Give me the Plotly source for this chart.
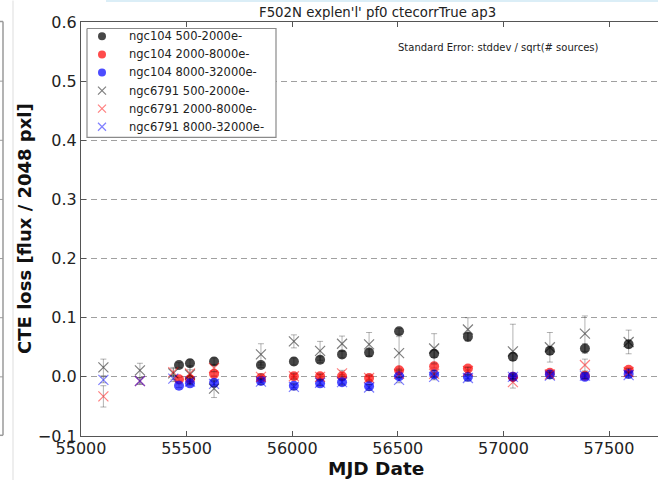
import plotly.graph_objects as go

# ---------------- data ----------------
mjd_104 = [55464, 55516, 55630, 55852, 56008, 56132, 56236, 56364, 56506, 56672, 56832, 57045, 57220, 57386, 57593]
ngc104_500 = [0.020, 0.023, 0.026, 0.020, 0.026, 0.029, 0.038, 0.041, 0.077, 0.039, 0.068, 0.034, 0.044, 0.048, 0.055]
ngc104_500_err = [0.004, 0.006, 0.006, 0.004, 0.006, 0.005, 0.006, 0.006, 0.005, 0.006, 0.006, 0.006, 0.006, 0.008, 0.006]
ngc104_2000 = [-0.004, -0.004, 0.005, -0.002, 0.001, 0.001, 0.001, -0.002, 0.011, 0.018, 0.014, 0.000, 0.007, 0.002, 0.012]
ngc104_2000_err = [0.003, 0.003, 0.003, 0.003, 0.003, 0.003, 0.003, 0.003, 0.003, 0.003, 0.003, 0.003, 0.003, 0.003, 0.003]
ngc104_8000 = [-0.015, -0.011, -0.010, -0.007, -0.015, -0.011, -0.009, -0.016, 0.001, 0.004, 0.000, 0.000, 0.004, 0.000, 0.005]
ngc104_8000_err = [0.003, 0.003, 0.003, 0.003, 0.003, 0.003, 0.003, 0.003, 0.003, 0.003, 0.003, 0.003, 0.003, 0.003, 0.003]

mjd_6791 = [55106, 55279, 55437, 55516, 55630, 55852, 56008, 56132, 56236, 56364, 56506, 56672, 56832, 57045, 57220, 57386, 57593]
ngc6791_500 = [0.016, 0.011, 0.006, 0.004, -0.020, 0.038, 0.060, 0.044, 0.056, 0.055, 0.040, 0.048, 0.080, 0.043, 0.050, 0.073, 0.059]
ngc6791_500_err = [0.014, 0.012, 0.010, 0.015, 0.015, 0.018, 0.011, 0.016, 0.013, 0.020, 0.028, 0.025, 0.020, 0.046, 0.025, 0.030, 0.020]
ngc6791_2000 = [-0.033, -0.007, 0.008, 0.006, 0.015, 0.000, 0.001, 0.000, 0.006, -0.002, 0.005, 0.005, 0.010, -0.009, 0.004, 0.020, 0.008]
ngc6791_2000_err = [0.018, 0.006, 0.006, 0.006, 0.006, 0.005, 0.005, 0.005, 0.005, 0.005, 0.006, 0.006, 0.006, 0.010, 0.006, 0.010, 0.006]
ngc6791_8000 = [-0.005, -0.007, -0.003, -0.008, -0.012, -0.008, -0.017, -0.010, -0.009, -0.018, -0.005, 0.000, -0.002, 0.000, 0.002, 0.002, 0.003]
ngc6791_8000_err = [0.005, 0.005, 0.005, 0.005, 0.005, 0.005, 0.005, 0.005, 0.005, 0.005, 0.005, 0.005, 0.005, 0.005, 0.005, 0.005, 0.005]

series_names = ["ngc104 500-2000e-", "ngc104 2000-8000e-", "ngc104 8000-32000e-",
                "ngc6791 500-2000e-", "ngc6791 2000-8000e-", "ngc6791 8000-32000e-"]
y_ticks = [-0.1, 0.0, 0.1, 0.2, 0.3, 0.4, 0.5, 0.6]
y_tick_labels = ["\u22120.1", "0.0", "0.1", "0.2", "0.3", "0.4", "0.5", "0.6"]
x_ticks = [55000, 55500, 56000, 56500, 57000, 57500]

title_text = "F502N explen'l' pf0 ctecorrTrue ap3"
note_text = "Standard Error: stddev / sqrt(# sources)"
x_title = "MJD Date"
y_title = "CTE loss [flux / 2048 pxl]"

# ---------------- geometry (pixels) ----------------
W, H = 658, 480
L, R, T, B = 81, 658, 21.5, 435.7
PW, PH = R - L, B - T


def px(x):
    return (x - L) / PW


def py(y):
    return (B - y) / PH


FONT = "DejaVu Sans"
err_style = dict(type="data", thickness=1, width=3, color="rgba(0,0,0,0.3)")

fig = go.Figure()

circle_sets = [
    (ngc104_500, ngc104_500_err, "rgba(0,0,0,0.72)"),
    (ngc104_2000, ngc104_2000_err, "rgba(255,0,0,0.7)"),
    (ngc104_8000, ngc104_8000_err, "rgba(0,0,255,0.7)"),
]
x_sets = [
    (ngc6791_500, ngc6791_500_err, "rgba(0,0,0,0.5)"),
    (ngc6791_2000, ngc6791_2000_err, "rgba(255,0,0,0.5)"),
    (ngc6791_8000, ngc6791_8000_err, "rgba(0,0,255,0.5)"),
]

for (vals, errs, col), name in zip(circle_sets, series_names[:3]):
    fig.add_trace(go.Scatter(
        x=mjd_104, y=vals, mode="markers", name=name, showlegend=False,
        marker=dict(symbol="circle", size=10, color=col, line=dict(width=0)),
        error_y=dict(array=errs, **err_style)))

for (vals, errs, col), name in zip(x_sets, series_names[3:]):
    fig.add_trace(go.Scatter(
        x=mjd_6791, y=vals, mode="markers", name=name, showlegend=False,
        marker=dict(symbol="x-thin", size=10, color=col, line=dict(width=1.2, color=col)),
        error_y=dict(array=errs, **err_style)))

# ---------------- custom legend on a pixel-unit overlay axis ----------------
LG_L, LG_R, LG_T, LG_B = 87, 276, 28, 137
row0, row_step = 35.8, 18.1
mark_x, text_x = 102, 127

fig.add_trace(go.Scatter(
    x=[LG_L, LG_R, LG_R, LG_L, LG_L], y=[LG_T, LG_T, LG_B, LG_B, LG_T],
    xaxis="x2", yaxis="y2", mode="lines", fill="toself", fillcolor="white",
    line=dict(color="#8a8a8a", width=1.2), showlegend=False, hoverinfo="skip"))

legend_styles = [("circle", c[2]) for c in circle_sets] + [("x-thin", c[2]) for c in x_sets]
annotations = []
for i, ((sym, col), name) in enumerate(zip(legend_styles, series_names)):
    yy = row0 + i * row_step
    if sym == "circle":
        mk = dict(symbol="circle", size=8, color=col, line=dict(width=0))
    else:
        mk = dict(symbol="x-thin", size=8, color=col, line=dict(width=1.2, color=col))
    fig.add_trace(go.Scatter(x=[mark_x], y=[yy], xaxis="x2", yaxis="y2", mode="markers",
                             marker=mk, showlegend=False, hoverinfo="skip"))
    annotations.append(dict(text=name, x=text_x, y=yy, xref="x2", yref="y2",
                            showarrow=False, xanchor="left", yanchor="middle",
                            font=dict(family=FONT, size=11.5, color="#222222")))

axis_line = "#555555"
fig.update_layout(
    width=W, height=H,
    margin=dict(l=L, r=W - R, t=T, b=H - B, pad=0),
    paper_bgcolor="white", plot_bgcolor="white",
    font=dict(family=FONT, size=16, color="#222222"),
    showlegend=False,
    xaxis=dict(range=[55000, 55000 + (R - L) / 0.2112], tickvals=x_ticks,
               ticktext=[str(v) for v in x_ticks],
               showgrid=False, zeroline=False,
               showline=True, linecolor=axis_line, linewidth=1.2, mirror="ticks",
               ticks="inside", ticklen=5, tickcolor=axis_line, ticklabelstandoff=-2,
               tickfont=dict(family=FONT, size=16, color="#222222")),
    yaxis=dict(range=[-0.1, 0.6], tickvals=y_ticks, ticktext=y_tick_labels,
               showgrid=True, gridcolor="#a0a0a0", griddash="6px,4px", gridwidth=1,
               zeroline=False, showline=True, linecolor=axis_line, linewidth=1.2,
               ticks="inside", ticklen=5, tickcolor=axis_line,
               tickfont=dict(family=FONT, size=16, color="#222222")),
    xaxis2=dict(overlaying="x", range=[L, R], visible=False, fixedrange=True),
    yaxis2=dict(overlaying="y", range=[B, T], visible=False, fixedrange=True),
)

annotations += [
    dict(text=title_text, x=px(377), y=py(12), xref="paper", yref="paper",
         showarrow=False, xanchor="center", yanchor="middle",
         font=dict(family=FONT, size=13.3, color="#222222")),
    dict(text=note_text, x=px(498), y=py(47), xref="paper", yref="paper",
         showarrow=False, xanchor="center", yanchor="middle",
         font=dict(family=FONT, size=10, color="#222222")),
    dict(text="<b>" + x_title + "</b>", x=px(376), y=py(468), xref="paper", yref="paper",
         showarrow=False, xanchor="center", yanchor="middle",
         font=dict(family=FONT, size=18.5, color="#111111")),
    dict(text="<b>" + y_title + "</b>", x=px(25), y=py(228.5), xref="paper", yref="paper",
         showarrow=False, xanchor="center", yanchor="middle", textangle=-90,
         font=dict(family=FONT, size=18, color="#111111")),
]
fig.update_layout(annotations=annotations)

# screenshot frame artifacts (neighbouring panel edges)
shapes = [
    dict(type="line", xref="paper", yref="paper", x0=px(3), x1=px(3), y0=py(21), y1=py(435),
         line=dict(color="#9a9a9a", width=1.5)),
    dict(type="line", xref="paper", yref="paper", x0=px(0), x1=px(3), y0=py(21), y1=py(21),
         line=dict(color="#9a9a9a", width=1.5)),
    dict(type="line", xref="paper", yref="paper", x0=px(0), x1=px(3), y0=py(435), y1=py(435),
         line=dict(color="#9a9a9a", width=1.5)),
    dict(type="line", xref="paper", yref="paper", x0=px(13), x1=px(13), y0=py(0), y1=py(480),
         line=dict(color="#dddddd", width=1)),
    dict(type="line", xref="paper", yref="paper", x0=px(106), x1=px(658), y0=py(0.5), y1=py(0.5),
         line=dict(color="#cfe9f5", width=1.5)),
]
for v in [0.0, 0.1, 0.2, 0.3, 0.4, 0.5]:
    yy = B - (v + 0.1) / 0.7 * PH
    shapes.append(dict(type="line", xref="paper", yref="paper", x0=px(0), x1=px(3),
                       y0=py(yy), y1=py(yy), line=dict(color="#9a9a9a", width=1)))
fig.update_layout(shapes=shapes)

fig.write_html("out.html")
